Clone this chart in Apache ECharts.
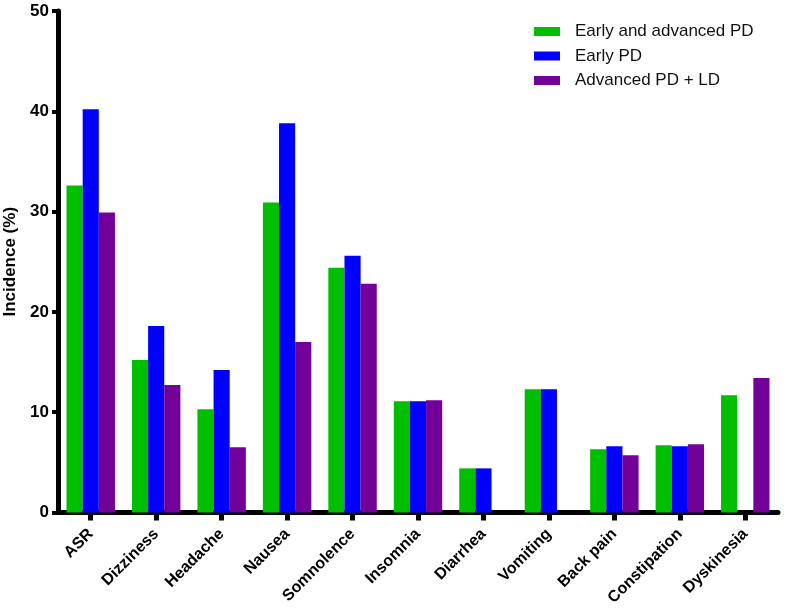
<!DOCTYPE html>
<html>
<head>
<meta charset="utf-8">
<script src="https://cdn.jsdelivr.net/npm/echarts@6/dist/echarts.min.js"></script>
<style>html,body{margin:0;padding:0;background:#fff;}#c{width:787px;height:610px;}</style>
</head>
<body>
<div id="c"></div>
<script>
const categories = ['ASR','Dizziness','Headache','Nausea','Somnolence','Insomnia','Diarrhea','Vomiting','Back pain','Constipation','Dyskinesia'];
const seriesNames = ['Early and advanced PD','Early PD','Advanced PD + LD'];
const earlyAndAdvanced = [32.6, 15.2, 10.3, 30.9, 24.4, 11.1, 4.4, 12.3, 6.3, 6.7, 11.7];
const earlyPD = [40.2, 18.6, 14.2, 38.8, 25.6, 11.1, 4.4, 12.3, 6.6, 6.6, 0];
const advancedLD = [29.9, 12.7, 6.5, 17.0, 22.8, 11.2, 0, 0, 5.7, 6.8, 13.4];
const colors = ['#00BE00', '#0000FF', '#730099'];

const FONT = 'Arial, "Liberation Sans", Helvetica, sans-serif';
const chart = echarts.init(document.getElementById('c'));
const data = [earlyAndAdvanced, earlyPD, advancedLD];
chart.setOption({
  animation: false,
  backgroundColor: '#fff',
  grid: { left: 58, right: 9, top: 11, bottom: 97.5, containLabel: false, outerBoundsMode: 'none' },
  legend: {
    orient: 'vertical', left: 529, top: 18, itemWidth: 26, itemHeight: 9, itemGap: 7.5,
    icon: 'rect',
    textStyle: { fontFamily: FONT, fontSize: 17, color: '#111', padding: [0,0,0,10] },
    data: seriesNames
  },
  xAxis: {
    type: 'category', data: categories,
    axisLine: { lineStyle: { color: '#000', width: 5 } },
    axisTick: { show: true, alignWithLabel: true, length: 8, lineStyle: { color: '#000', width: 5 } },
    axisLabel: { rotate: 45, interval: 0, margin: 19, fontFamily: FONT, fontWeight: 'bold', fontSize: 16, color: '#000' }
  },
  yAxis: {
    type: 'value', min: 0, max: 50, interval: 10,
    name: 'Incidence (%)', nameLocation: 'middle', nameGap: 33,
    nameTextStyle: { fontFamily: FONT, fontWeight: 'bold', fontSize: 17, color: '#000' },
    axisLine: { show: true, lineStyle: { color: '#000', width: 5 } },
    axisTick: { show: true, length: 6, lineStyle: { color: '#000', width: 4 } },
    axisLabel: { margin: 9, fontFamily: FONT, fontWeight: 'bold', fontSize: 17, color: '#000' },
    splitLine: { show: false }
  },
  series: seriesNames.map((n, i) => ({
    name: n, type: 'bar', data: data[i],
    barGap: '0%', barCategoryGap: '26%',
    itemStyle: { color: colors[i] }
  }))
});
</script>
</body>
</html>
